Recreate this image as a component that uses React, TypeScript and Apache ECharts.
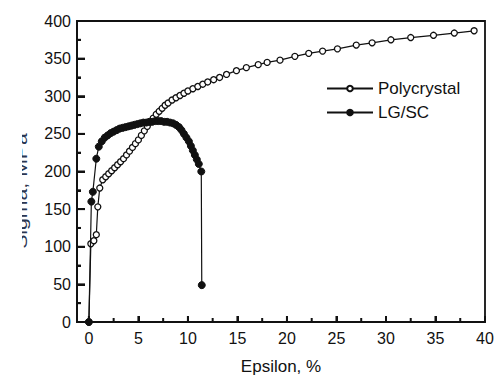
import React, { useEffect, useRef } from "react";
import * as echarts from "echarts";

const polyEps = [0, 0.2, 0.5, 0.75, 0.9, 1.1, 1.4, 1.7, 2.0, 2.3, 2.6, 2.9, 3.2, 3.5, 3.8, 4.1, 4.4, 4.7, 5.0, 5.3, 5.6, 5.9, 6.2, 6.5, 6.8, 7.1, 7.4, 7.7, 8.0, 8.4, 8.8, 9.2, 9.6, 10.0, 10.5, 11.0, 11.5, 12.0, 12.6, 13.2, 13.9, 14.9, 15.9, 17.1, 18.0, 19.3, 20.8, 22.2, 23.6, 25.1, 27.0, 28.6, 30.5, 32.5, 34.8, 36.9, 38.9];
const polySigma = [0, 104, 108, 116, 153, 178, 189, 193, 197, 201, 205, 209, 213, 217, 222, 227, 232, 237, 242, 248, 254, 260, 266, 271, 276, 280, 284, 288, 291, 295, 298, 301, 304, 307, 310, 313, 316, 319, 322, 325, 329, 334, 338, 342, 345, 348, 353, 357, 360, 363, 368, 371, 375, 378, 381, 384, 387];

const lgEps = [0, 0.25, 0.4, 0.75, 1.0, 1.3, 1.6, 1.9, 2.2, 2.5, 2.8, 3.1, 3.4, 3.7, 4.0, 4.3, 4.6, 4.9, 5.2, 5.5, 5.8, 6.1, 6.4, 6.7, 7.0, 7.3, 7.6, 7.9, 8.2, 8.5, 8.8, 9.1, 9.35, 9.6, 9.85, 10.1, 10.3, 10.5, 10.7, 10.9, 11.1, 11.35, 11.4];
const lgSigma = [0, 160, 173, 217, 233, 240, 245, 248, 251, 253, 255, 257, 258, 259, 260, 261, 262, 263, 264, 265, 265, 266, 266, 267, 267, 267, 266, 266, 265, 264, 262, 259, 255, 250, 245, 240, 234, 228, 222, 216, 210, 200, 49];

const xMajorTicks = [0, 5, 10, 15, 20, 25, 30, 35, 40];
const xMinorTicks = [2.5, 7.5, 12.5, 17.5, 22.5, 27.5, 32.5, 37.5];
const yMajorTicks = [50, 100, 150, 200, 250, 300, 350];
const yMinorTicks = [25, 75, 125, 175, 225, 275, 325, 375];
const seriesNames = ["Polycrystal", "LG/SC"];
const xTitle = "Epsilon, %";
const yTitle = "Sigma, MPa";

const X_MIN = -1.2;
const X_MAX = 40;
const FONT = "'Liberation Sans', Arial, sans-serif";
const INK = "#111111";

export default function App() {
  const ref = useRef<HTMLDivElement>(null);
  useEffect(() => {
    if (!ref.current) return;
    const chart = echarts.init(ref.current, null, { renderer: "svg" });
    const zip = (xs: number[], ys: number[]) => xs.map((x, i) => [x, ys[i]]);
    // tick kinds: 0 x-major, 1 x-minor, 2 y-major, 3 y-minor
    const tickData = [
      ...xMajorTicks.map((v) => [v, 0]),
      ...xMinorTicks.map((v) => [v, 1]),
      ...yMajorTicks.map((v) => [0, 2, v]),
      ...yMinorTicks.map((v) => [0, 3, v]),
    ].map((d) => (d.length === 2 ? [d[0], d[1], 0] : d));
    const tickLen = [6, 4, 8, 4];
    chart.setOption({
      animation: false,
      backgroundColor: "#ffffff",
      grid: {
        left: 77,
        right: 9,
        top: 21,
        bottom: 55,
        show: true,
        backgroundColor: "rgba(0,0,0,0)",
        borderColor: INK,
        borderWidth: 1.8,
        containLabel: false,
        outerBoundsMode: "none",
      },
      legend: {
        orient: "vertical",
        left: 326,
        top: 80,
        padding: 0,
        itemWidth: 46,
        itemHeight: 7,
        itemGap: 7,
        data: seriesNames,
        textStyle: { fontSize: 17, fontFamily: FONT, color: INK },
      },
      xAxis: {
        type: "value",
        min: X_MIN,
        max: X_MAX,
        z: 9,
        name: xTitle,
        nameLocation: "middle",
        nameGap: 36,
        nameTextStyle: { fontSize: 17, fontFamily: FONT, color: INK },
        axisLine: { show: true, onZero: false, lineStyle: { color: INK, width: 1.8 } },
        axisTick: { show: true, inside: true, length: 6, customValues: xMajorTicks, lineStyle: { color: INK, width: 2 } },
        axisLabel: { show: true, customValues: xMajorTicks, fontSize: 16, fontFamily: FONT, color: INK, margin: 8 },
        splitLine: { show: false },
      },
      yAxis: {
        type: "value",
        min: 0,
        max: 400,
        interval: 50,
        z: 9,
        axisLine: { show: true, onZero: false, lineStyle: { color: INK, width: 1.8 } },
        axisTick: { show: true, inside: true, length: 8, lineStyle: { color: INK, width: 2 } },
        minorTick: { show: true, splitNumber: 2, length: 4, lineStyle: { color: INK, width: 2 } },
        axisLabel: { fontSize: 16, fontFamily: FONT, color: INK, margin: 6 },
        splitLine: { show: false },
      },
      series: [
        {
          name: "ticks",
          type: "custom",
          data: tickData,
          silent: true,
          clip: false,
          z: 8,
          encode: { x: 0, y: 2 },
          renderItem: (params: any, api: any) => {
            const kind = api.value(1);
            const len = tickLen[kind];
            if (kind < 2) {
              const p = api.coord([api.value(0), 0]);
              return {
                type: "line",
                shape: { x1: p[0], y1: p[1], x2: p[0], y2: p[1] - len },
                style: { stroke: INK, lineWidth: 2 },
              };
            }
            const p = api.coord([X_MIN, api.value(2)]);
            return {
              type: "line",
              shape: { x1: p[0], y1: p[1], x2: p[0] + len, y2: p[1] },
              style: { stroke: INK, lineWidth: 2 },
            };
          },
        },
        {
          name: seriesNames[0],
          type: "line",
          data: zip(polyEps, polySigma),
          symbol: "circle",
          symbolSize: 6,
          itemStyle: { color: "#ffffff", borderColor: INK, borderWidth: 1.3 },
          lineStyle: { color: INK, width: 1.2 },
          z: 6,
        },
        {
          name: seriesNames[1],
          type: "line",
          data: zip(lgEps, lgSigma),
          symbol: "circle",
          symbolSize: 7,
          itemStyle: { color: INK, borderColor: INK, borderWidth: 1 },
          lineStyle: { color: INK, width: 1.2 },
          z: 7,
        },
      ],
      graphic: [
        {
          type: "text",
          x: 21,
          y: 191,
          rotation: Math.PI / 2,
          scaleX: 1.25,
          z: 10,
          style: {
            text: yTitle,
            fontSize: 17,
            fontFamily: FONT,
            fill: "#2a3550",
            align: "center",
            verticalAlign: "middle",
          },
        },
        {
          type: "rect",
          z: 11,
          shape: { x: 0, y: 100, width: 22, height: 200 },
          style: { fill: "#ffffff" },
        },
      ],
    });
    return () => chart.dispose();
  }, []);
  return (
    <div
      ref={ref}
      style={{ position: "fixed", left: 0, top: 0, width: 494, height: 377 }}
    />
  );
}
